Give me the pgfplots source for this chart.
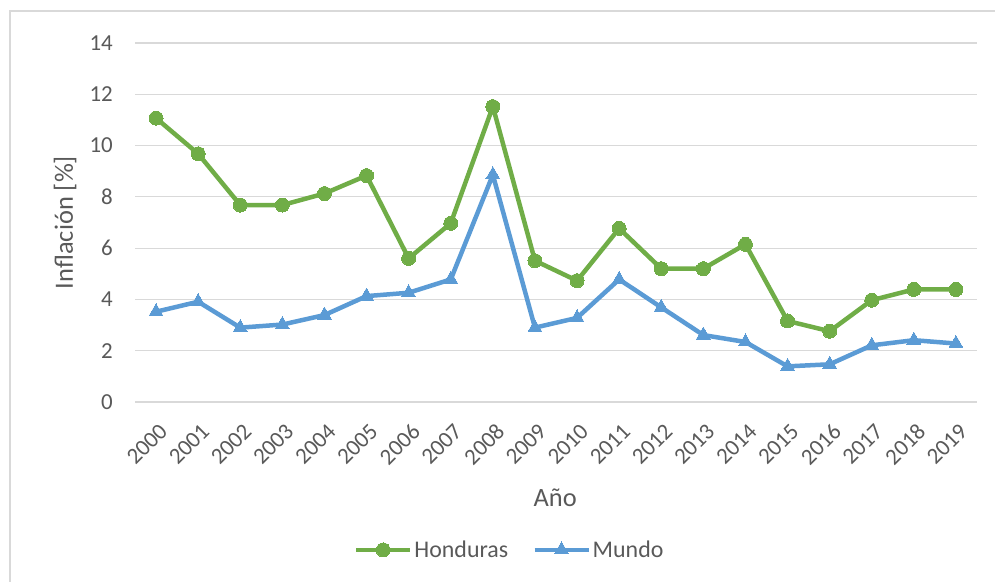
\documentclass[border=0pt]{standalone}
\usepackage{pgfplots}
\pgfplotsset{compat=1.18}
\usepackage{fontspec}
\setmainfont{Carlito}
\definecolor{hon}{HTML}{70AD47}
\definecolor{mun}{HTML}{5B9BD5}
\definecolor{txt}{HTML}{595959}
\definecolor{grd}{HTML}{D9D9D9}
\begin{document}
\begin{tikzpicture}
\useasboundingbox (0,0) rectangle (995bp,582bp);
\draw[grd, line width=1.2bp] (10bp,0) -- (10bp,571bp) -- (995bp,571bp);
\begin{axis}[
  at={(135bp,180bp)}, anchor=south west,
  scale only axis, width=842bp, height=359bp,
  xmin=-0.5, xmax=19.5, ymin=0, ymax=14,
  ytick={0,2,...,14},
  xtick={0,...,19},
  xticklabels={2000,2001,2002,2003,2004,2005,2006,2007,2008,2009,2010,2011,2012,2013,2014,2015,2016,2017,2018,2019},
  axis line style={draw=none},
  tick style={draw=none},
  ymajorgrids,
  major grid style={grd, line width=1.2bp},
  /pgf/number format/assume math mode=true,
  tick label style={font=\fontsize{23}{27}\selectfont, text=txt},
  yticklabel style={inner sep=0pt, xshift=-22bp, anchor=east},
  xticklabel style={inner sep=0pt, yshift=-20bp, xshift=2bp, rotate=45, anchor=north east},
  xlabel={Año},
  ylabel={Inflación [\%]},
  label style={font=\fontsize{26.5}{30}\selectfont, text=txt},
  xlabel style={at={(axis description cs:0.499,-0.267)}, anchor=center},
  ylabel style={at={(axis description cs:-0.083,0.5)}, anchor=center, rotate=0},
  legend columns=2,
  legend style={draw=none, fill=none, at={(axis description cs:0.445,-0.412)}, anchor=center,
    font=\fontsize{24}{28}\selectfont, text=txt,
    /tikz/every even column/.append style={column sep=22bp},
    inner sep=0pt},
  legend image code/.code={
    \draw[#1, mark repeat=2, mark phase=2] plot coordinates {(0bp,0bp) (27bp,0bp) (54bp,0bp)};
  },
]
\addplot[hon, line width=4.5bp, mark=*, mark size=7bp, mark options={solid, fill=hon, draw=hon, line width=0bp}]
coordinates {
(0,11.07) (1,9.68) (2,7.68) (3,7.68) (4,8.13) (5,8.83) (6,5.60) (7,6.97) (8,11.52) (9,5.51)
(10,4.73) (11,6.77) (12,5.20) (13,5.20) (14,6.15) (15,3.16) (16,2.76) (17,3.97) (18,4.39) (19,4.39)
};
\addlegendentry{Honduras}
\addplot[mun, line width=4.5bp, mark=triangle*, mark size=8bp, mark options={solid, fill=mun, draw=mun, line width=0bp}]
coordinates {
(0,3.52) (1,3.91) (2,2.90) (3,3.02) (4,3.39) (5,4.13) (6,4.26) (7,4.78) (8,8.86) (9,2.90)
(10,3.28) (11,4.78) (12,3.69) (13,2.61) (14,2.34) (15,1.39) (16,1.47) (17,2.21) (18,2.41) (19,2.28)
};
\addlegendentry{Mundo}
\end{axis}
\end{tikzpicture}
\end{document}
